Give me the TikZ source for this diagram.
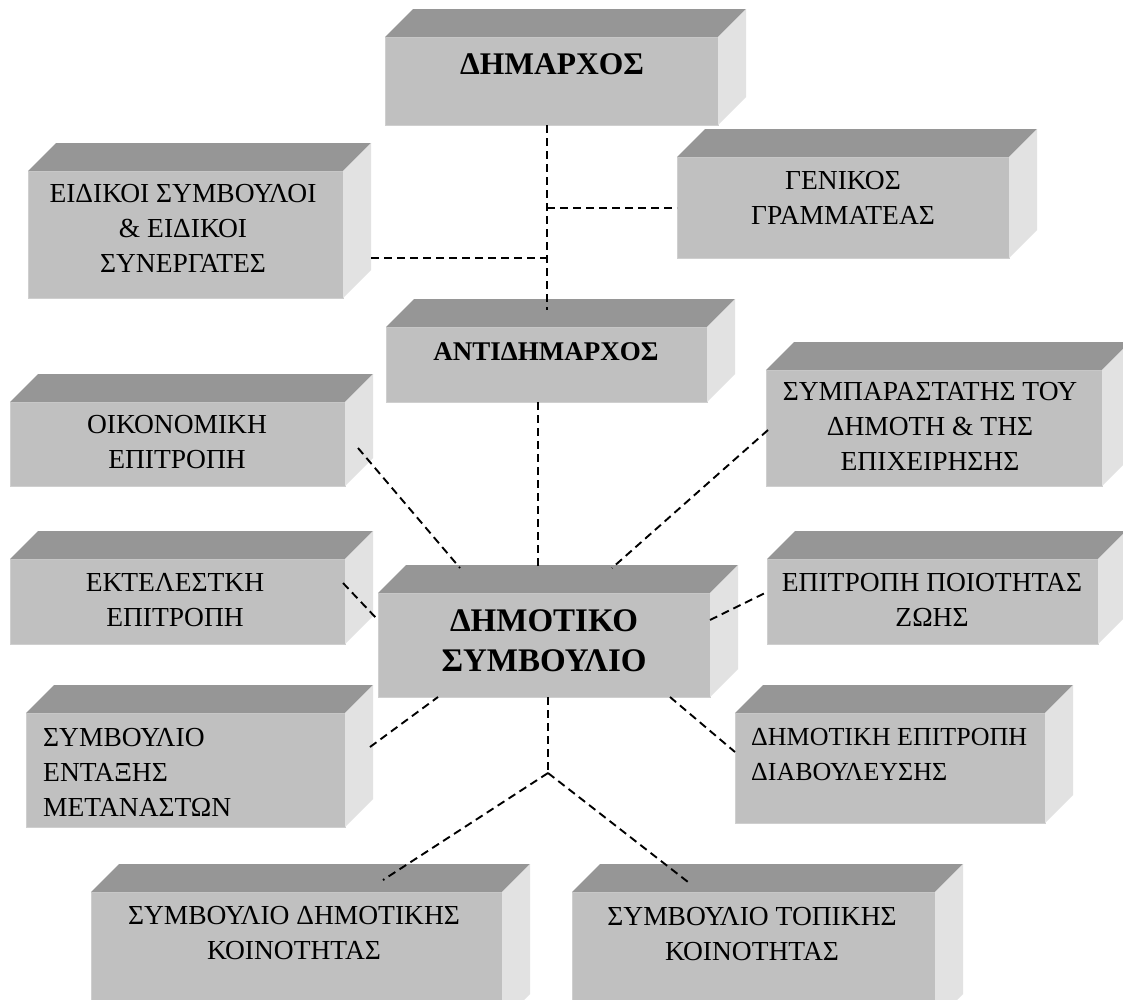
\documentclass[tikz,border=0pt]{standalone}
\usepackage{fontspec}
\setmainfont{Liberation Serif}
\usetikzlibrary{calc}

\definecolor{frontgray}{HTML}{C0C0C0}
\definecolor{topgray}{HTML}{969696}
\definecolor{sidegray}{HTML}{E2E2E2}
\definecolor{edgegray}{HTML}{CFCFCF}

\begin{document}
\begin{tikzpicture}[
    x=1pt, y=-1pt,
    face/.style={anchor=north west, fill=frontgray, draw=edgegray, line width=1pt,
                 inner sep=0pt, outer sep=0pt},
    topface/.style={fill=topgray},
    sideface/.style={fill=sidegray},
    lbl/.style={align=center, inner sep=0pt, font=\fontsize{27.5}{35}\selectfont},
    lbll/.style={align=left, inner sep=0pt, font=\fontsize{27.5}{35}\selectfont},
    bold/.style={align=center, inner sep=0pt, font=\fontsize{27}{35}\selectfont\bfseries},
    headbold/.style={align=center, inner sep=0pt, font=\fontsize{31.5}{40}\selectfont\bfseries},
    bigbold/.style={align=center, inner sep=0pt, font=\fontsize{33}{40}\selectfont\bfseries},
    link/.style={draw=black, line width=1.9pt, dash pattern=on 8pt off 5pt},
  ]
  \clip (0,0) rectangle (1123,999);
  \fill[white] (0,0) rectangle (1123,999);

  % front faces of the boxes
  \node[face, minimum width=333pt, minimum height=88pt]  (mayor) at (385,37)  {};
  \node[face, minimum width=315pt, minimum height=127pt] (eid)   at (28,171)  {};
  \node[face, minimum width=332pt, minimum height=101pt] (gen)   at (677,157) {};
  \node[face, minimum width=321pt, minimum height=75pt]  (vice)  at (386,327) {};
  \node[face, minimum width=335pt, minimum height=84pt]  (oik)   at (10,402)  {};
  \node[face, minimum width=336pt, minimum height=116pt] (symp)  at (766,370) {};
  \node[face, minimum width=335pt, minimum height=85pt]  (ekt)   at (10,559)  {};
  \node[face, minimum width=332pt, minimum height=104pt] (ds)    at (378,593) {};
  \node[face, minimum width=331pt, minimum height=85pt]  (poi)   at (767,559) {};
  \node[face, minimum width=319pt, minimum height=114pt] (ent)   at (26,713)  {};
  \node[face, minimum width=310pt, minimum height=110pt] (diav)  at (735,713) {};
  \node[face, minimum width=411pt, minimum height=130pt] (sdk)   at (91,892)  {};
  \node[face, minimum width=363pt, minimum height=130pt] (stk)   at (572,892) {};

  % top and right faces of every box
  \foreach \n in {mayor,eid,gen,vice,oik,symp,ekt,ds,poi,ent,diav,sdk,stk} {
    \fill[topface] (\n.north west) -- ++(28pt,28pt)
      -- ([shift={(28pt,28pt)}]\n.north east) -- (\n.north east) -- cycle;
    \fill[sideface] (\n.north east) -- ++(28pt,28pt)
      -- ([shift={(28pt,28pt)}]\n.south east) -- (\n.south east) -- cycle;
  }

  % labels
  \node[headbold] (mayortxt) at (552,64)  {ΔΗΜΑΡΧΟΣ};
  \node[lbl]     (eidtxt)   at (183,228)   {ΕΙΔΙΚΟΙ ΣΥΜΒΟΥΛΟΙ\\\& ΕΙΔΙΚΟΙ\\ΣΥΝΕΡΓΑΤΕΣ};
  \node[lbl]     (gentxt)   at (843,197.5) {ΓΕΝΙΚΟΣ\\ΓΡΑΜΜΑΤΕΑΣ};
  \node[bold]    (vicetxt)  at (546,352)   {ΑΝΤΙΔΗΜΑΡΧΟΣ};
  \node[lbl]     (oiktxt)   at (177,442.5) {ΟΙΚΟΝΟΜΙΚΗ\\ΕΠΙΤΡΟΠΗ};
  \node[lbl]     (symptxt)  at (930,426)   {ΣΥΜΠΑΡΑΣΤΑΤΗΣ ΤΟΥ\\ΔΗΜΟΤΗ \& ΤΗΣ\\ΕΠΙΧΕΙΡΗΣΗΣ};
  \node[lbl]     (ekttxt)   at (175,600)   {ΕΚΤΕΛΕΣΤΚΗ\\ΕΠΙΤΡΟΠΗ};
  \node[bigbold] (dstxt)    at (544,641)   {ΔΗΜΟΤΙΚΟ\\ΣΥΜΒΟΥΛΙΟ};
  \node[lbl]     (poitxt)   at (932,600)   {ΕΠΙΤΡΟΠΗ ΠΟΙΟΤΗΤΑΣ\\ΖΩΗΣ};
  \node[lbll, anchor=west] (enttxt)  at (43,772)  {ΣΥΜΒΟΥΛΙΟ\\ΕΝΤΑΞΗΣ\\ΜΕΤΑΝΑΣΤΩΝ};
  \node[lbll, anchor=west, font=\fontsize{26}{35}\selectfont] (diavtxt) at (751,755)
    {ΔΗΜΟΤΙΚΗ ΕΠΙΤΡΟΠΗ\\ΔΙΑΒΟΥΛΕΥΣΗΣ};
  \node[lbl]     (sdktxt)   at (294,933)   {ΣΥΜΒΟΥΛΙΟ ΔΗΜΟΤΙΚΗΣ\\ΚΟΙΝΟΤΗΤΑΣ};
  \node[lbl]     (stktxt)   at (752,934)   {ΣΥΜΒΟΥΛΙΟ ΤΟΠΙΚΗΣ\\ΚΟΙΝΟΤΗΤΑΣ};

  % junctions and connector ends on the box faces
  \coordinate (vicetop) at (547,310);
  \coordinate (jgen)    at (547,208);
  \coordinate (jeid)    at (547,258);
  \coordinate (eidside) at (371,258);
  \coordinate (vicebot) at (538,402);
  \coordinate (dstopc)  at (538,568);
  \coordinate (oikside) at (358,448);
  \coordinate (dstopl)  at (460,568);
  \coordinate (dstopr)  at (612,568);
  \coordinate (sympin)  at (768,430);
  \coordinate (ektout)  at (343,583);
  \coordinate (dsleft)  at (378,620);
  \coordinate (dsright) at (710,620);
  \coordinate (poiin)   at (767,592);
  \coordinate (entside) at (370,747);
  \coordinate (dsbotl)  at (438,697);
  \coordinate (dsbotr)  at (670,697);
  \coordinate (diavin)  at (735,752);
  \coordinate (dsbotc)  at (548,697);
  \coordinate (jlow)    at (548,773);
  \coordinate (sdktop)  at (383,880);
  \coordinate (stktop)  at (688,882);

  % connectors
  \draw[link] (mayor.south -| vicetop) -- (vicetop);
  \draw[link] (jgen) -- (gen.west |- jgen);
  \draw[link] (eidside) -- (jeid);
  \draw[link] (vicebot) -- (dstopc);
  \draw[link] (oikside) -- (dstopl);
  \draw[link] (sympin) -- (dstopr);
  \draw[link] (ektout) -- (dsleft);
  \draw[link] (dsright) -- (poiin);
  \draw[link] (entside) -- (dsbotl);
  \draw[link] (dsbotr) -- (diavin);
  \draw[link] (dsbotc) -- (jlow);
  \draw[link] (jlow) -- (sdktop);
  \draw[link] (jlow) -- (stktop);
\end{tikzpicture}
\end{document}
